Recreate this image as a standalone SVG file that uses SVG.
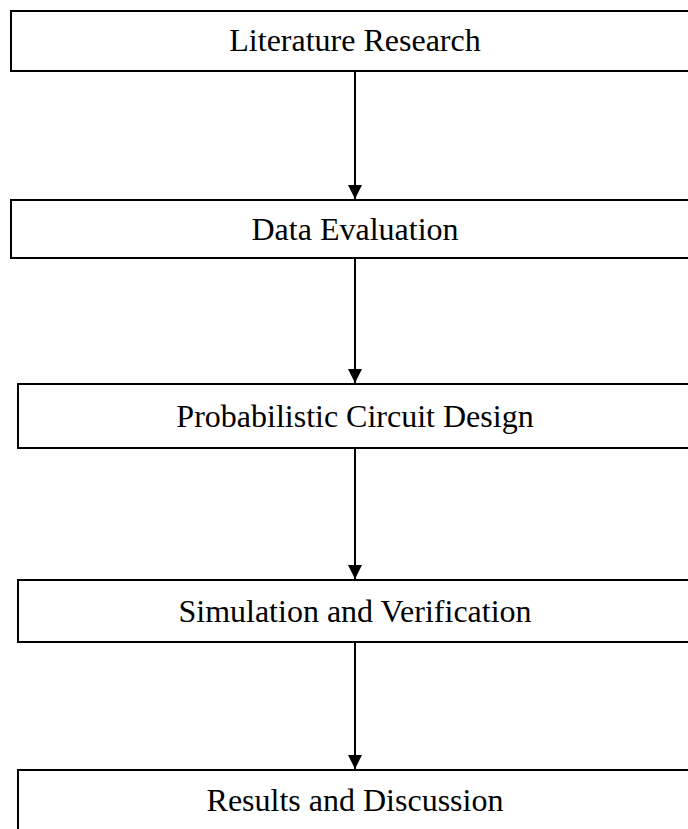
<svg xmlns="http://www.w3.org/2000/svg" width="688" height="829" viewBox="0 0 688 829">
<style>
.box{fill:#fff;stroke:#000;stroke-width:2}
.lbl{font-family:"Liberation Serif","Times New Roman",serif;font-size:32px;fill:#000;text-anchor:middle}
.conn{stroke:#000;stroke-width:2;fill:none}
</style>
<defs>
<marker id="ah" markerWidth="14" markerHeight="14" refX="14" refY="7" orient="auto" markerUnits="userSpaceOnUse">
<path d="M0,0 L14,7 L0,14 Z" fill="#000"/>
</marker>
</defs>
<rect width="688" height="829" fill="#fff"/>
<g id="connectors">
<line class="conn" x1="355" y1="71" x2="355" y2="199" marker-end="url(#ah)"/>
<line class="conn" x1="355" y1="259" x2="355" y2="383" marker-end="url(#ah)"/>
<line class="conn" x1="355" y1="449" x2="355" y2="579" marker-end="url(#ah)"/>
<line class="conn" x1="355" y1="643" x2="355" y2="769" marker-end="url(#ah)"/>
</g>
<g id="n1"><rect class="box" x="11" y="11" width="700" height="60"/><text class="lbl" x="355" y="50.5">Literature Research</text></g>
<g id="n2"><rect class="box" x="11" y="200" width="700" height="58"/><text class="lbl" x="355" y="239.5">Data Evaluation</text></g>
<g id="n3"><rect class="box" x="18" y="384" width="700" height="64"/><text class="lbl" x="355" y="427">Probabilistic Circuit Design</text></g>
<g id="n4"><rect class="box" x="18" y="580" width="700" height="62"/><text class="lbl" x="355" y="622">Simulation and Verification</text></g>
<g id="n5"><rect class="box" x="18" y="770" width="700" height="80"/><text class="lbl" x="355" y="811">Results and Discussion</text></g>
</svg>
